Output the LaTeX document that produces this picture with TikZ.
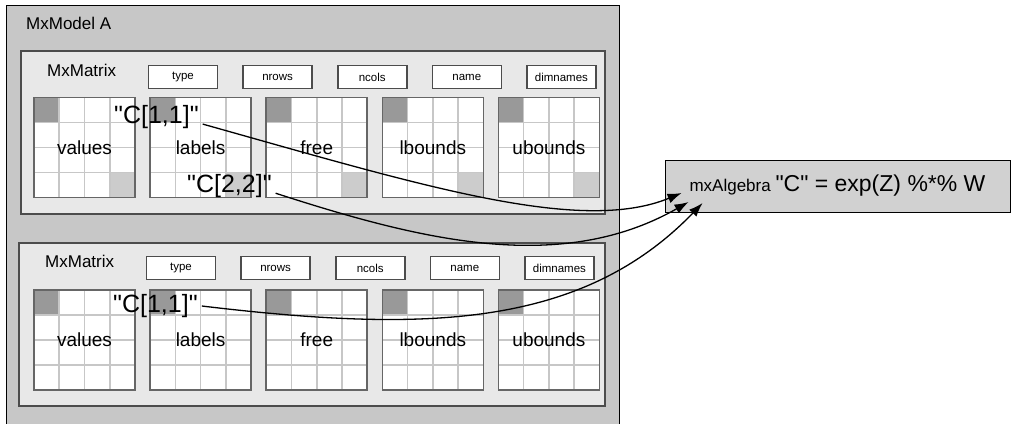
\documentclass[tikz,border=0pt]{standalone}
\usepackage{fontspec}
\setmainfont{Liberation Sans}[Ligatures=TeXOff]
\usetikzlibrary{positioning}
\usetikzlibrary{arrows.meta}
\tikzset{
    modelbox/.style = {rectangle, draw=black, thick, fill=black!22},
    matbox/.style = {rectangle, draw=black!70, line width=1.6pt, fill=black!9},
    slotbox/.style = {rectangle, draw=black!70, line width=1.6pt, fill=white, minimum width=69pt, minimum height=23pt, inner sep=0pt, font=\fontsize{11.5}{12}\selectfont},
    gridbox/.style = {rectangle, draw=black!60, line width=1.6pt, fill=white, minimum width=101pt, minimum height=100pt, inner sep=0pt, font=\fontsize{19}{20}\selectfont,
        path picture={
            \fill[black!40] (path picture bounding box.north west) rectangle ++(25.25pt,-25pt);
            \fill[#1] (path picture bounding box.south east) rectangle ++(-25.25pt,25pt);
            \foreach \k in {1,2,3} {
                \draw[black!22, line width=1.6pt] ([xshift=\k*25.25pt]path picture bounding box.north west) -- ([xshift=\k*25.25pt]path picture bounding box.south west);
                \draw[black!22, line width=1.6pt] ([yshift=-\k*25pt]path picture bounding box.north west) -- ([yshift=-\k*25pt]path picture bounding box.north east);
            }
        }},
    gridbox/.default = white,
    titletext/.style = {inner sep=0pt, font=\fontsize{17}{18}\selectfont},
    celltext/.style = {inner sep=0pt, font=\fontsize{25}{26}\selectfont},
    algbox/.style = {rectangle, draw=black, thick, fill=black!18, minimum width=345pt, minimum height=52pt},
    edgel/.style = {-{Latex[length=14pt,width=10pt]}, line width=1.3pt, black, shorten <=4pt},
}
\begin{document}
\begin{tikzpicture}[x=1pt, y=-1pt, font=\fontsize{17}{18}\selectfont]
  \useasboundingbox (0,0) rectangle (1011,423);
  % model
  \node[modelbox, anchor=north west, minimum width=613pt, minimum height=440pt] (model) at (6,5) {};
  \node[titletext, anchor=west] (mname) at (26,23) {MxModel A};

  % first matrix
  \node[matbox, anchor=north west, minimum width=584pt, minimum height=163pt] (m1) at (20,50) {};
  \node[titletext, anchor=west] (t1) at (47,70) {MxMatrix};
  \node[slotbox] (type1) at (183,77) {type};
  \node[slotbox, right=24pt of type1] (nrows1) {nrows};
  \node[slotbox, right=24pt of nrows1] (ncols1) {ncols};
  \node[slotbox, right=24pt of ncols1] (name1) {name};
  \node[slotbox, right=24pt of name1] (dimn1) {dimnames};
  \node[gridbox=black!20] (val1) at (84.5,147.5) {values};
  \node[gridbox=black!20, right=13.5pt of val1] (lab1) {labels};
  \node[gridbox=black!20, right=13.5pt of lab1] (free1) {free};
  \node[gridbox=black!20, right=13.5pt of free1] (lbd1) {lbounds};
  \node[gridbox=black!20, right=13.5pt of lbd1] (ubd1) {ubounds};

  % second matrix
  \node[matbox, anchor=north west, minimum width=586pt, minimum height=163pt] (m2) at (18,242) {};
  \node[titletext, anchor=west] (t2) at (45,261) {MxMatrix};
  \node[slotbox] (type2) at (181,268) {type};
  \node[slotbox, right=24pt of type2] (nrows2) {nrows};
  \node[slotbox, right=24pt of nrows2] (ncols2) {ncols};
  \node[slotbox, right=24pt of ncols2] (name2) {name};
  \node[slotbox, right=24pt of name2] (dimn2) {dimnames};
  \node[gridbox, below=91pt of val1] (val2) {values};
  \node[gridbox, right=13.5pt of val2] (lab2) {labels};
  \node[gridbox, right=13.5pt of lab2] (free2) {free};
  \node[gridbox, right=13.5pt of free2] (lbd2) {lbounds};
  \node[gridbox, right=13.5pt of lbd2] (ubd2) {ubounds};

  % algebra
  \node[algbox] (alg) at (837.5,186) {mxAlgebra {\fontsize{23}{24}\selectfont "C" = exp(Z) \%*\% W}};

  % cell labels
  \node[celltext, anchor=base west] (c11a) at (114,123) {"C[1,1]"};
  \node[celltext, anchor=base west] (c22a) at (187,192) {"C[2,2]"};
  \node[celltext, anchor=base west] (c11b) at (113,312) {"C[1,1]"};

  % links into the algebra
  \coordinate (in1) at ([xshift=17pt,yshift=-7pt]alg.west);
  \coordinate (in2) at ([xshift=24pt,yshift=-16pt]alg.west);
  \coordinate (in3) at ([xshift=38pt,yshift=-17pt]alg.west);
  \draw[edgel] (c11a.base east) .. controls (420,185) and (580,235) .. (in1);
  \draw[edgel] (c22a.base east) .. controls (420,240) and (560,275) .. (in2);
  \draw[edgel] (c11b.east) .. controls (420,332) and (580,330) .. (in3);
\end{tikzpicture}
\end{document}
